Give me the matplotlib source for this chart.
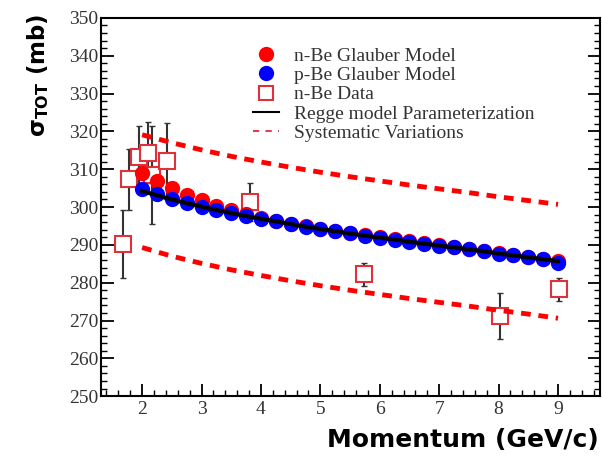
import numpy as np
import matplotlib
matplotlib.use("Agg")
import matplotlib.pyplot as plt
from matplotlib.lines import Line2D
from matplotlib.ticker import MultipleLocator

# glauber model points (GeV/c, mb)
p_model = [2.0, 2.25, 2.5, 2.75, 3.0, 3.25, 3.5, 3.75, 4.0, 4.25, 4.5, 4.75, 5.0,
           5.25, 5.5, 5.75, 6.0, 6.25, 6.5, 6.75, 7.0, 7.25, 7.5, 7.75, 8.0,
           8.25, 8.5, 8.75, 9.0]
nbe_glauber = [309.1, 306.8, 304.9, 303.2, 301.8, 300.4, 299.2, 298.2, 297.2, 296.4,
               295.6, 294.9, 294.3, 293.7, 293.1, 292.5, 292.0, 291.5, 290.9, 290.4,
               289.9, 289.4, 288.9, 288.4, 287.8, 287.3, 286.8, 286.3, 285.8]
pbe_glauber = [304.8, 303.4, 302.2, 301.1, 300.1, 299.2, 298.4, 297.6, 296.9, 296.2,
               295.5, 294.8, 294.2, 293.6, 293.0, 292.4, 291.9, 291.4, 290.8, 290.3,
               289.8, 289.3, 288.8, 288.3, 287.7, 287.2, 286.7, 286.2, 285.2]
regge = [304.2, 303.1, 302.0, 301.0, 300.1, 299.2, 298.4, 297.6, 296.9, 296.2,
         295.5, 294.8, 294.2, 293.6, 293.0, 292.4, 291.9, 291.4, 290.8, 290.3,
         289.8, 289.3, 288.8, 288.3, 287.7, 287.2, 286.7, 286.2, 285.7]

# systematic bands
p_sys = [2.0, 2.5, 3.0, 3.5, 4.0, 4.5, 5.0, 5.5, 6.0, 6.5, 7.0, 7.5, 8.0, 8.5, 9.0]
sys_up = [319.1, 317.0, 315.1, 313.4, 311.9, 310.5, 309.2, 308.0, 306.9, 305.8,
          304.8, 303.8, 302.7, 301.7, 300.7]
sys_lo = [289.3, 287.0, 285.1, 283.4, 281.9, 280.5, 279.2, 278.0, 276.9, 275.8,
          274.8, 273.8, 272.7, 271.7, 270.6]

# n-Be data
p_data = [1.67, 1.78, 1.94, 2.10, 2.17, 2.42, 3.82, 5.73, 8.02, 9.01]
sig_data = [290.2, 307.3, 313.3, 314.4, 308.5, 312.2, 301.3, 282.2, 271.2, 278.2]
err_data = [9.0, 8.0, 8.0, 8.0, 13.0, 10.0, 5.0, 3.0, 6.0, 3.0]

fig = plt.figure(figsize=(6.02, 4.58), dpi=100)
ax = fig.add_axes([0.168, 0.135, 0.829, 0.826])

ax.errorbar(p_data, sig_data, yerr=err_data, fmt='none', ecolor='#333333',
            elinewidth=1.5, capsize=2, zorder=2)
ax.plot(p_data, sig_data, 's', ms=11, mfc='white', mec='#e0303a', mew=1.5,
        linestyle='none', zorder=2)
ax.plot(p_model, nbe_glauber, 'o', color='red', ms=11, mec='none', zorder=3)
ax.plot(p_model, pbe_glauber, 'o', color='blue', ms=11, mec='none', zorder=4)
ax.plot(p_model, regge, '-', color='black', lw=3, zorder=5)
ax.plot(p_sys, sys_up, color='red', lw=3.5, dashes=(2, 1.6), zorder=5)
ax.plot(p_sys, sys_lo, color='red', lw=3.5, dashes=(2, 1.6), zorder=5)

ax.set_xlim(1.31, 9.71)
ax.set_ylim(250, 350)
ax.xaxis.set_major_locator(MultipleLocator(1))
ax.xaxis.set_minor_locator(MultipleLocator(0.2))
ax.yaxis.set_major_locator(MultipleLocator(10))
ax.yaxis.set_minor_locator(MultipleLocator(2))
ax.tick_params(which='both', direction='in', right=True, top=False,
               labelsize=14, labelcolor='#333333')
ax.tick_params(which='major', length=9, width=1.3)
ax.tick_params(which='minor', length=4.5, width=1.0)
ax.tick_params(axis='y', pad=2)
for lab in ax.get_xticklabels() + ax.get_yticklabels():
    lab.set_family('Liberation Serif')
for s in ax.spines.values():
    s.set_linewidth(1.5)

ax.set_xlabel('Momentum (GeV/c)', fontsize=18, fontweight='bold', loc='right')
ax.xaxis.set_label_coords(0.997, -0.085)
ax.set_ylabel(r'$\mathbf{\sigma}_{\mathbf{TOT}}$ (mb)', fontsize=16.5,
              fontweight='bold', loc='top')
ax.yaxis.set_label_coords(-0.1, 1.01)

handles = [
    Line2D([], [], marker='o', color='red', ms=11, mec='none', linestyle='none'),
    Line2D([], [], marker='o', color='blue', ms=11, mec='none', linestyle='none'),
    Line2D([], [], marker='s', ms=10, mfc='white', mec='#e0303a', mew=1.5, linestyle='none'),
    Line2D([], [], color='black', lw=1.5),
    Line2D([], [], color='#e04050', lw=1.5, dashes=(3, 3)),
]
labels = ['n-Be Glauber Model', 'p-Be Glauber Model', 'n-Be Data',
          'Regge model Parameterization', 'Systematic Variations']
leg = ax.legend(handles, labels, loc='upper left', bbox_to_anchor=(0.27, 0.968),
                frameon=False, labelspacing=0.08, handlelength=1.3,
                handletextpad=0.8, prop={'family': 'Liberation Serif', 'size': 14})
for t in leg.get_texts():
    t.set_color('#333333')

fig.savefig('out.png', dpi=100)
